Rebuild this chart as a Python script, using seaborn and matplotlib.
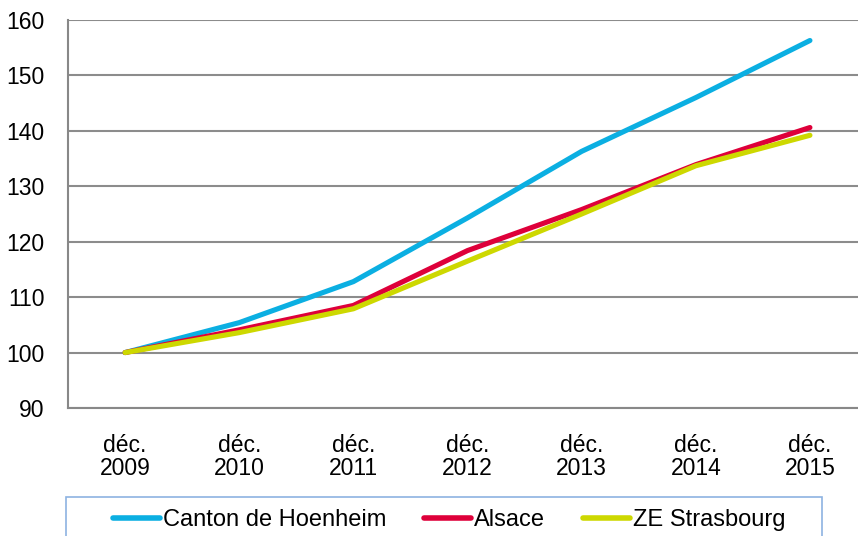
import matplotlib
matplotlib.use("Agg")
import matplotlib.pyplot as plt
import seaborn as sns
import pandas as pd
from matplotlib.patches import Rectangle

categories = ["déc.\n2009", "déc.\n2010", "déc.\n2011", "déc.\n2012", "déc.\n2013", "déc.\n2014", "déc.\n2015"]
canton = [100, 105.4, 112.8, 124.3, 136.3, 146.0, 156.3]
alsace = [100, 104.1, 108.5, 118.4, 125.8, 133.9, 140.6]
ze_strasbourg = [100, 103.6, 107.9, 116.5, 125.0, 133.7, 139.2]
series_names = ["Canton de Hoenheim", "Alsace", "ZE Strasbourg"]
colors = ["#0BAFE2", "#DE003A", "#CDD800"]
y_ticks = [90, 100, 110, 120, 130, 140, 150, 160]

sns.set_style("white")
plt.rcParams['font.family'] = ['Liberation Sans', 'DejaVu Sans']
plt.rcParams['text.color'] = 'black'
FS = 16.5

rows = []
for name, vals in zip(series_names, [canton, alsace, ze_strasbourg]):
    for i, v in enumerate(vals):
        rows.append({"x": i, "value": v, "series": name})
df = pd.DataFrame(rows)

fig = plt.figure(figsize=(8.58, 5.36), dpi=100)
ax = fig.add_axes([68/858, 1-408/536, (867-68)/858, (408-20)/536])

sns.lineplot(data=df, x="x", y="value", hue="series", hue_order=series_names,
             palette=colors, linewidth=3.7, ax=ax, legend=False,
             solid_capstyle="round", solid_joinstyle="round")

ax.set_xlim(-0.5, 6.5)
ax.set_ylim(90, 160)
ax.set_yticks(y_ticks)
ax.set_yticklabels([str(t) for t in y_ticks], fontsize=FS, color="black")
ax.set_xticks(range(len(categories)))
ax.set_xticklabels(categories, fontsize=FS, linespacing=1.0, color="black")
ax.set_xticks([i - 0.5 for i in range(len(categories) + 1)], minor=True)
ax.tick_params(axis='x', which='major', length=0, pad=19)
ax.tick_params(axis='x', which='minor', length=7, width=1.5, color="#888888", direction="out")
ax.tick_params(axis='y', length=7, width=1.5, color="#888888", direction="out", pad=10)
ax.set_xlabel("")
ax.set_ylabel("")
ax.yaxis.grid(True, color="#8C8C8C", linewidth=1.5)
ax.set_axisbelow(True)
for s in ["top", "right"]:
    ax.spines[s].set_visible(False)
for s in ["left", "bottom"]:
    ax.spines[s].set_color("#888888")
    ax.spines[s].set_linewidth(1.5)

# legend frame
fig.patches.append(Rectangle((66/858, 1-545/536), (822-66)/858, 48/536,
                             transform=fig.transFigure, facecolor="white",
                             edgecolor="#8DB3E2", linewidth=1.2, zorder=1))
handles = [plt.Line2D([], [], color=c, linewidth=4.0, solid_capstyle="round") for c in colors]
leg = fig.legend(handles, series_names, loc="center", bbox_to_anchor=(449/858, 1-520/536),
                 ncol=3, frameon=False, fontsize=17, handlelength=2.0, handletextpad=0.12,
                 columnspacing=1.6, borderaxespad=0)
for t in leg.get_texts():
    t.set_color("black")

fig.savefig("out.png", dpi=100)
